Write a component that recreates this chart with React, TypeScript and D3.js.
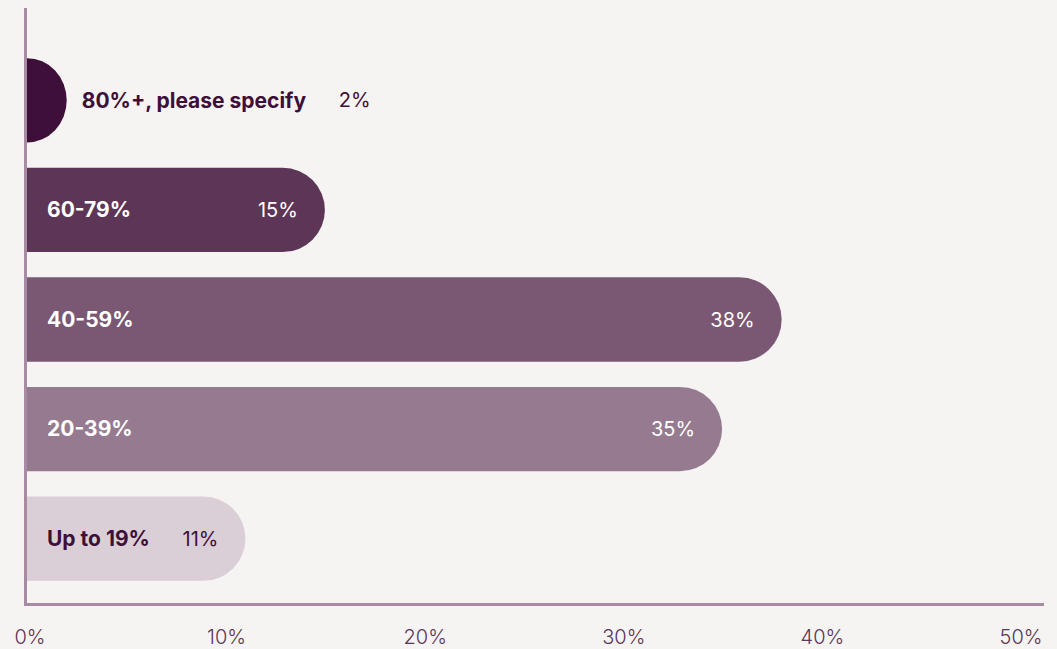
import React from "react";
import * as d3 from "d3";

// Share of respondents by range
const categories = ["80%+, please specify", "60-79%", "40-59%", "20-39%", "Up to 19%"];
const values = [2, 15, 38, 35, 11];
const barColors = ["#3e0f38", "#5d3556", "#7a5873", "#967b90", "#dacfd7"];
const labelColors = ["#3e0f38", "#ffffff", "#ffffff", "#ffffff", "#3e0f38"];
const tickValues = [0, 10, 20, 30, 40, 50];

const W = 1057;
const H = 649;
const FONT = "Inter, 'Noto Sans', sans-serif";

export default function App() {
  const x = d3.scaleLinear().domain([0, 50]).range([27, 1020]);
  const y = d3
    .scaleBand<string>()
    .domain(categories)
    .range([45, 594])
    .paddingInner(0.23)
    .paddingOuter(0.12);

  const h = y.bandwidth();

  const barPath = (v: number, top: number) => {
    const x0 = x(0);
    const x1 = x(v);
    const ry = h / 2;
    const rx = Math.min(ry, x1 - x0);
    return `M${x0},${top}H${x1 - rx}A${rx},${ry} 0 0 1 ${x1 - rx},${top + h}H${x0}Z`;
  };

  const labelX = 47;
  // rough bold text width at 21px for overflow decisions
  const textWidth = (s: string) => s.length * 11.8;

  return (
    <div style={{ position: "absolute", left: 0, top: 0, width: W, height: H, background: "#f5f4f2" }}>
      <svg width={W} height={H} style={{ display: "block" }}>
        <rect width={W} height={H} fill="#f5f4f2" />
        {categories.map((c, i) => {
          const top = y(c)!;
          const cy = top + h / 2;
          const end = x(values[i]);
          const inside = end - labelX > textWidth(c) + 80;
          const catX = inside ? labelX : end + 15;
          const catColor = inside ? labelColors[i] : "#3e0f38";
          const valText = `${values[i]}%`;
          return (
            <g key={c}>
              <path d={barPath(values[i], top)} fill={barColors[i]} />
              <text
                x={catX}
                y={cy}
                dy="0.35em"
                fontFamily={FONT}
                fontWeight={700}
                fontSize={21}
                fill={catColor}
              >
                {c}
              </text>
              {inside ? (
                <text
                  x={end - 27}
                  y={cy}
                  dy="0.35em"
                  textAnchor="end"
                  fontFamily={FONT}
                  fontSize={20}
                  fill={labelColors[i]}
                >
                  {valText}
                </text>
              ) : (
                <text
                  x={catX + 257}
                  y={cy}
                  dy="0.35em"
                  fontFamily={FONT}
                  fontSize={20}
                  fill="#3e0f38"
                >
                  {valText}
                </text>
              )}
            </g>
          );
        })}
        {/* axes */}
        <line x1={25.5} x2={25.5} y1={8} y2={606} stroke="#a78ba2" strokeWidth={3} />
        <line x1={24} x2={1044} y1={604.5} y2={604.5} stroke="#a78ba2" strokeWidth={3} />
        {tickValues.map((t) => (
          <text
            key={t}
            x={x(t) + (t === 0 ? 3 : 1)}
            y={644}
            textAnchor="middle"
            fontFamily={FONT}
            fontSize={20}
            fontWeight={300}
            fill="#5d3556"
          >
            {`${t}%`}
          </text>
        ))}
      </svg>
    </div>
  );
}
